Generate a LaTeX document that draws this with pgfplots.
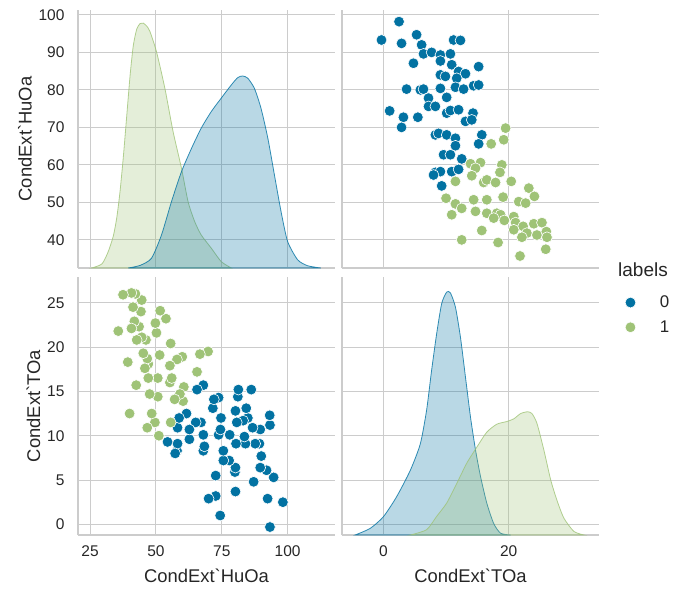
\documentclass[border=0pt]{standalone}
\usepackage{pgfplots}
\usepackage{pgfplotstable}
\pgfplotsset{compat=1.18}
\usepackage{fontspec}
\setmainfont{Liberation Sans}[Ligatures=TeXOff]
\definecolor{cblue}{HTML}{0272A2}
\definecolor{cgreen}{HTML}{9FC377}
\definecolor{gridc}{HTML}{CCCCCC}
\definecolor{txt}{HTML}{262626}

% columns: TOa HuOa
\pgfplotstableread{
TOa HuOa
2.5 98.2
-0.3 93.3
2.9 92.4
5.3 94.7
6.1 92.0
11.2 93.3
12.3 93.2
6.4 89.6
7.7 90.0
9.1 89.3
10.7 89.6
4.8 87.1
9.1 87.7
10.9 86.7
15.2 86.2
9.1 84.0
9.9 83.6
12.0 84.9
13.1 84.3
11.7 83.1
3.7 80.2
5.9 80.0
6.4 80.2
9.1 80.4
11.5 80.7
12.8 80.2
14.4 81.1
15.2 81.3
7.2 77.8
10.1 78.0
7.2 75.6
8.3 75.6
1.0 74.4
3.2 72.7
5.5 72.7
2.9 70.0
10.1 73.8
10.7 74.5
12.0 74.7
14.3 73.8
13.1 71.6
14.1 72.0
8.3 68.0
8.8 68.4
10.1 68.0
11.5 67.1
15.7 68.0
15.2 65.6
11.5 65.1
9.6 62.7
10.7 62.7
12.5 61.6
8.3 58.0
9.1 58.2
10.9 58.2
12.0 58.8
9.3 54.4
8.0 57.3
}\blueT

\pgfplotstableread{
TOa HuOa
19.5 69.8
19.2 66.7
17.2 65.6
15.5 60.6
13.9 60.3
14.7 59.1
14.1 57.1
18.9 60.0
18.6 58.0
11.5 55.6
16.0 55.3
16.5 56.0
17.9 55.3
20.4 55.6
23.2 53.8
10.0 51.1
11.5 49.6
12.5 48.4
10.9 46.7
14.4 50.7
16.5 50.7
19.1 51.4
21.6 50.2
22.7 49.8
24.1 51.6
14.7 47.6
16.5 47.1
18.1 47.1
18.7 46.7
17.6 45.8
20.8 46.2
21.1 44.6
22.3 43.6
24.0 44.3
25.3 44.6
20.8 42.7
22.9 41.8
24.5 41.3
26.0 42.2
26.1 40.7
22.1 40.7
15.7 42.5
12.5 40.0
18.3 39.3
25.9 37.5
21.8 35.7
19.3 45.2
}\greenT

% KDE of HuOa (height expressed on the HuOa row scale, baseline 32.5)
\pgfplotstableread{
x y
25.6 32.5
29.5 33.6
31.9 36.9
33.8 41.0
35.1 45.8
36.3 52.5
37.6 62.0
38.9 73.0
40.2 84.0
41.4 91.8
42.7 96.2
44.0 97.7
45.2 97.8
46.5 97.0
47.7 95.6
50.2 90.2
53.4 80.4
56.5 68.9
59.7 59.1
62.2 50.2
64.7 44.9
67.2 41.3
71.0 37.8
74.8 34.2
78.6 32.5
}\kdeHuGreen

\pgfplotstableread{
x y
39.5 32.5
44.0 33.2
48.3 35.1
52.1 41.3
55.9 50.2
59.7 58.2
63.5 64.4
67.2 69.8
71.0 74.2
74.8 77.8
78.6 81.3
81.1 83.3
83.0 83.7
84.9 83.1
87.4 80.4
89.9 75.1
92.5 67.1
95.0 57.3
97.5 47.6
100.0 39.6
103.8 34.7
107.6 33.1
112.6 32.5
}\kdeHuBlue

% KDE of TOa (height on the TOa row scale, baseline -1.2)
\pgfplotstableread{
x y
-4.5 -1.2
-2.1 -0.45
0.0 0.86
2.1 3.1
4.3 6.1
5.9 9.1
6.9 12.9
7.7 17.4
8.5 21.5
9.3 24.9
10.1 26.2
10.7 26.1
11.5 24.5
12.3 21.1
13.1 16.6
13.9 12.1
14.7 8.4
15.5 5.4
16.5 2.4
17.6 0.1
18.7 -1.0
20.3 -1.2
}\kdeToBlue

\pgfplotstableread{
x y
4.3 -1.2
6.9 -0.6
8.5 0.9
10.1 2.4
11.7 4.6
13.3 6.9
14.9 8.7
16.5 10.4
18.1 11.3
19.7 11.6
20.8 11.9
21.9 12.5
23.0 12.7
23.7 12.5
24.5 11.4
25.6 8.4
26.7 5.0
27.7 2.7
28.8 0.7
30.4 -0.8
32.0 -1.2
}\kdeToGreen

\pgfplotsset{
  pp/.style={
    scale only axis, width=257pt, height=258pt, anchor=north west,
    axis x line*=bottom, axis y line*=left,
    axis line style={-, draw=gridc, line width=1.3pt},
    grid=major, grid style={draw=gridc, line width=1pt},
    major tick length=0pt, tick style={draw=none},
    /pgf/number format/assume math mode=true,
    tick label style={font=\fontsize{15.5}{18}\selectfont, text=txt},
    label style={font=\fontsize{18.4}{22}\selectfont, text=txt},
    yticklabel style={xshift=-10pt},
    xticklabel style={yshift=-7pt},
    ylabel shift=0pt, xlabel shift=6pt,
  },
  huX/.style={xmin=20.4, xmax=118, xtick={25,50,75,100}},
  toX/.style={xmin=-6.6, xmax=34.4, xtick={0,20}},
  huY/.style={ymin=32.5, ymax=101.3, ytick={40,50,...,100}},
  toY/.style={ymin=-1.2, ymax=27.9, ytick={0,5,...,25}},
  sc/.style={only marks, mark=*, mark size=5.4pt, mark options={draw=white, line width=0.6pt, fill=#1}},
  kd/.style={smooth, tension=0.4, draw=#1, draw opacity=0.8, line width=0.8pt, fill=#1, fill opacity=0.28},
}

\begin{document}
\begin{tikzpicture}
\useasboundingbox (0,0) rectangle (673pt,-591pt);

% top-left: KDE of HuOa
\begin{axis}[pp, huX, huY, at={(78pt,-10pt)}, xticklabels={},
  ylabel={CondExt`HuOa}]
\addplot[kd=cgreen] table[x=x, y=y] {\kdeHuGreen} -- cycle;
\addplot[kd=cblue] table[x=x, y=y] {\kdeHuBlue} -- cycle;
\end{axis}

% top-right: HuOa vs TOa
\begin{axis}[pp, toX, huY, at={(342pt,-10pt)}, xticklabels={}, yticklabels={}]
\addplot[sc=cblue] table[x=TOa, y=HuOa] {\blueT};
\addplot[sc=cgreen] table[x=TOa, y=HuOa] {\greenT};
\end{axis}

% bottom-left: TOa vs HuOa
\begin{axis}[pp, huX, toY, at={(78pt,-277pt)},
  xlabel={CondExt`HuOa}, ylabel={CondExt`TOa}]
\addplot[sc=cblue] table[x=HuOa, y=TOa] {\blueT};
\addplot[sc=cgreen] table[x=HuOa, y=TOa] {\greenT};
\end{axis}

% bottom-right: KDE of TOa
\begin{axis}[pp, toX, toY, at={(342pt,-277pt)}, yticklabels={},
  xlabel={CondExt`TOa},
  legend style={draw=none, fill=none, at={(1.089,0.943)}, anchor=north west,
    font=\fontsize{16.9}{20}\selectfont, text=txt, row sep=7.5pt, column sep=22pt},
  legend cell align=left]
\addplot[kd=cblue, forget plot] table[x=x, y=y] {\kdeToBlue} -- cycle;
\addplot[kd=cgreen, forget plot] table[x=x, y=y] {\kdeToGreen} -- cycle;
\addlegendimage{sc=cblue}
\addlegendentry{0}
\addlegendimage{sc=cgreen}
\addlegendentry{1}
\end{axis}

\node[font=\fontsize{19}{22}\selectfont, text=txt] at (643pt,-270pt) {labels};
\end{tikzpicture}
\end{document}
